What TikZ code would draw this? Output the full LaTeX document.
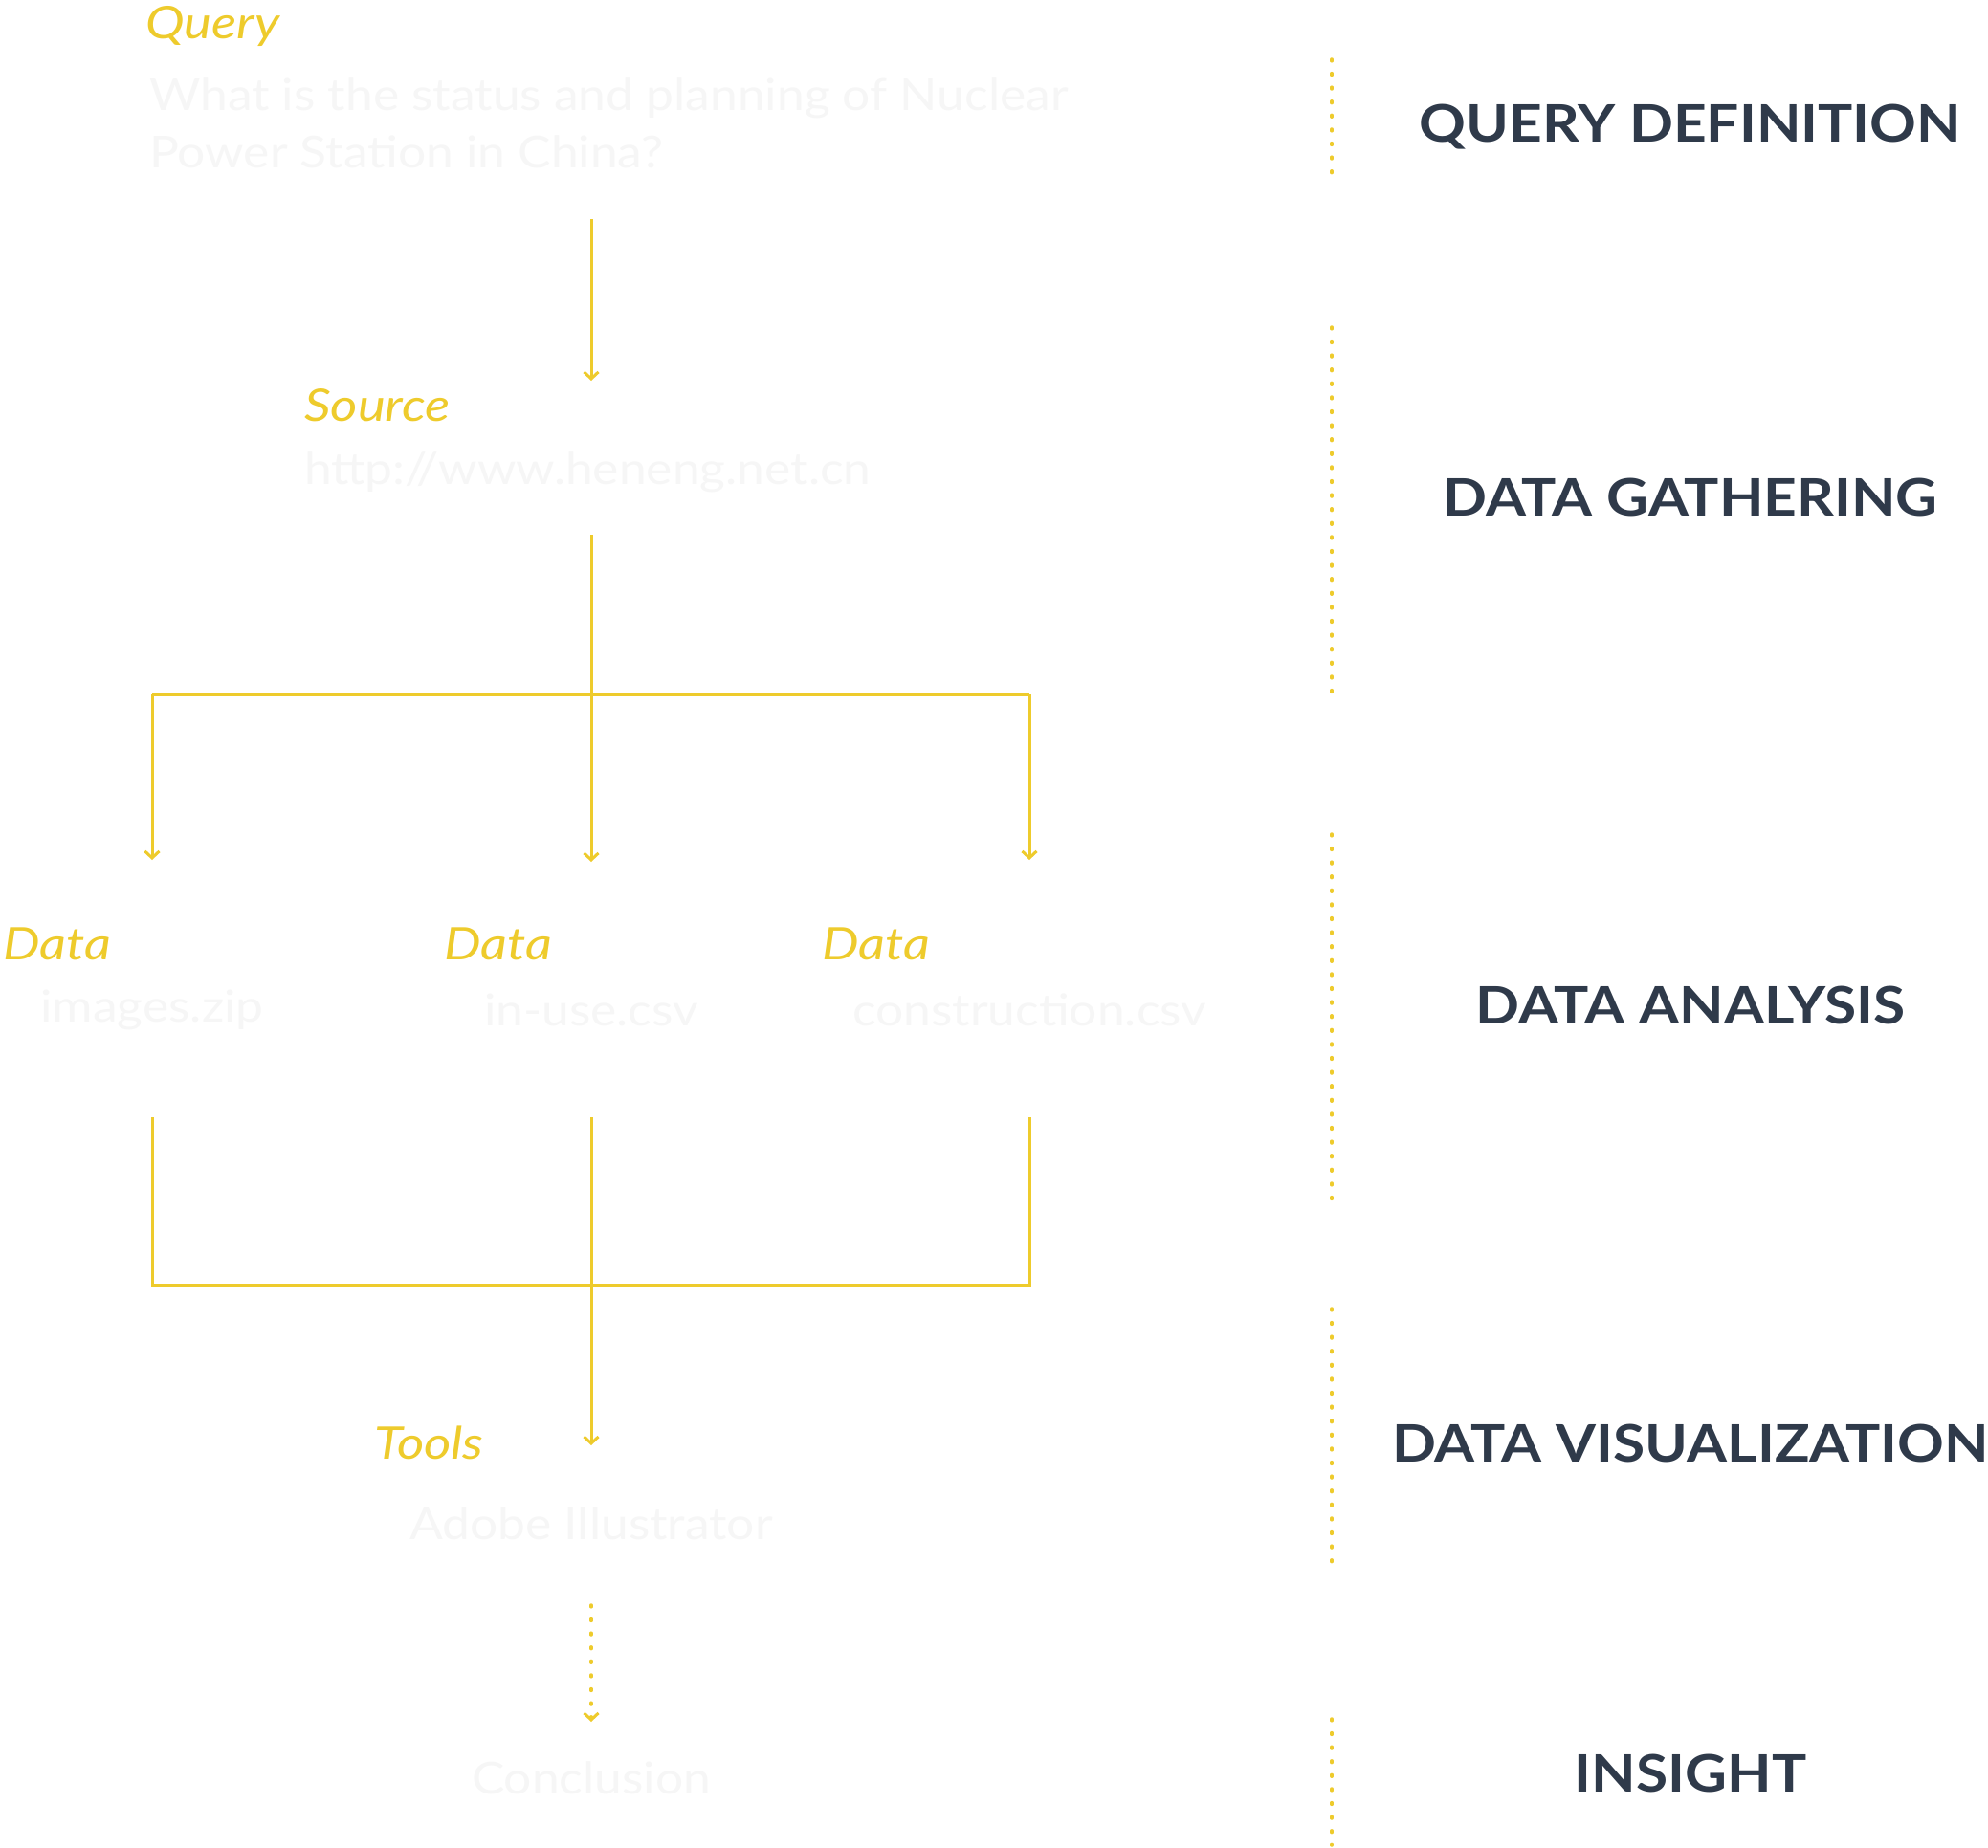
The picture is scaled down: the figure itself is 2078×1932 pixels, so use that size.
\documentclass[tikz,border=0pt]{standalone}
\usepackage{fontspec}
\setmainfont{Lato}[FakeStretch=1.12]
\newfontfamily\lblfont{Lato}[FakeStretch=1.16]
\newfontfamily\stagefont{Lato}[FakeStretch=1.12]
\usetikzlibrary{arrows.meta}
\definecolor{ylw}{HTML}{EECB2C}
\definecolor{dark}{HTML}{2F3A4A}
\definecolor{pale}{HTML}{F6F6F6}
\begin{document}
\begin{tikzpicture}[x=1pt,y=-1pt,
  lbl/.style={text=ylw,font=\lblfont\fontsize{47}{50}\selectfont\itshape,inner sep=0pt,anchor=west},
  body/.style={text=pale,font=\fontsize{46}{60}\selectfont,inner sep=0pt},
  stage/.style={text=dark,font=\stagefont\fontsize{54}{60}\selectfont\bfseries,inner sep=0pt},
  flow/.style={draw=ylw,line width=3pt},
  arr/.style={flow,-{Straight Barb[length=7pt,width=15pt,line width=3pt]}},
  darr/.style={draw=ylw,line width=3.5pt,line cap=round,dash pattern=on 1.8pt off 12.8pt,-{Straight Barb[length=7pt,width=15pt,line width=3pt,line cap=butt]}},
  sep/.style={draw=ylw,line width=3.5pt,line cap=round,dash pattern=on 1.8pt off 12.8pt}
]
\useasboundingbox[fill=white] (0,0) rectangle (2078,1932);

% texts
\node[lbl] (qlbl) at (152,28) {Query};
\node[body,anchor=west,align=left] (qtxt) at (156,129) {What is the status and planning of Nuclear\\Power Station in China?};
\node[lbl] (slbl) at (318,424) {Source};
\node[body,anchor=west] (stxt) at (318,494) {http://www.heneng.net.cn};
\node[lbl] (d1lbl) at (3,987) {Data};
\node[lbl] (d2lbl) at (464,987) {Data};
\node[lbl] (d3lbl) at (859,987) {Data};
\node[body] (d1) at (159,1056) {images.zip};
\node[body] (d2) at (618,1056) {in-use.csv};
\node[body] (d3) at (1076,1056) {construction.csv};
\node[lbl] (tlbl) at (391,1508) {Tools};
\node[body] (ttxt) at (618,1593) {Adobe Illustrator};
\node[body] (ctxt) at (618,1859) {Conclusion};

% coordinates
\coordinate (a1s) at (618,229);
\coordinate (a1e) at (618,398);
\coordinate (s0) at (618,559);
\coordinate (jt) at (618,726);
\coordinate (jl) at (159,726);
\coordinate (jr) at (1076,726);
\coordinate (e1) at (159,899);
\coordinate (e2) at (618,901);
\coordinate (e3) at (1076,899);
\coordinate (b1) at (159,1168);
\coordinate (b2) at (618,1168);
\coordinate (b3) at (1076,1168);
\coordinate (bl) at (159,1343);
\coordinate (bm) at (618,1343);
\coordinate (br) at (1076,1343);
\coordinate (te) at (618,1511);
\coordinate (ds) at (618,1678);
\coordinate (de) at (618,1800);

\draw[arr] (a1s) -- (a1e);
\draw[flow] (s0) -- (jt);
\draw[flow] (jl) -- (jr);
\draw[arr] (jl) -- (e1);
\draw[arr] (jt) -- (e2);
\draw[arr] (jr) -- (e3);
\draw[flow] (b1) -- (bl) -- (br) -- (b3);
\draw[flow] (b2) -- (bm);
\draw[arr] (bm) -- (te);
\draw[darr] (ds) -- (de);

% stage separators
\coordinate (p1a) at (1392,62);   \coordinate (p1b) at (1392,184);
\coordinate (p2a) at (1392,342);  \coordinate (p2b) at (1392,727);
\coordinate (p3a) at (1392,872);  \coordinate (p3b) at (1392,1255);
\coordinate (p4a) at (1392,1368); \coordinate (p4b) at (1392,1634);
\coordinate (p5a) at (1392,1797); \coordinate (p5b) at (1392,1929);
\draw[sep] (p1a) -- (p1b);
\draw[sep] (p2a) -- (p2b);
\draw[sep] (p3a) -- (p3b);
\draw[sep] (p4a) -- (p4b);
\draw[sep] (p5a) -- (p5b);

\node[stage] (st1) at (1767,133) {QUERY DEFINITION};
\node[stage] (st2) at (1767,520) {DATA GATHERING};
\node[stage] (st3) at (1767,1051) {DATA ANALYSIS};
\node[stage] (st4) at (1767,1509) {DATA VISUALIZATION};
\node[stage] (st5) at (1767,1854) {INSIGHT};
\end{tikzpicture}
\end{document}
